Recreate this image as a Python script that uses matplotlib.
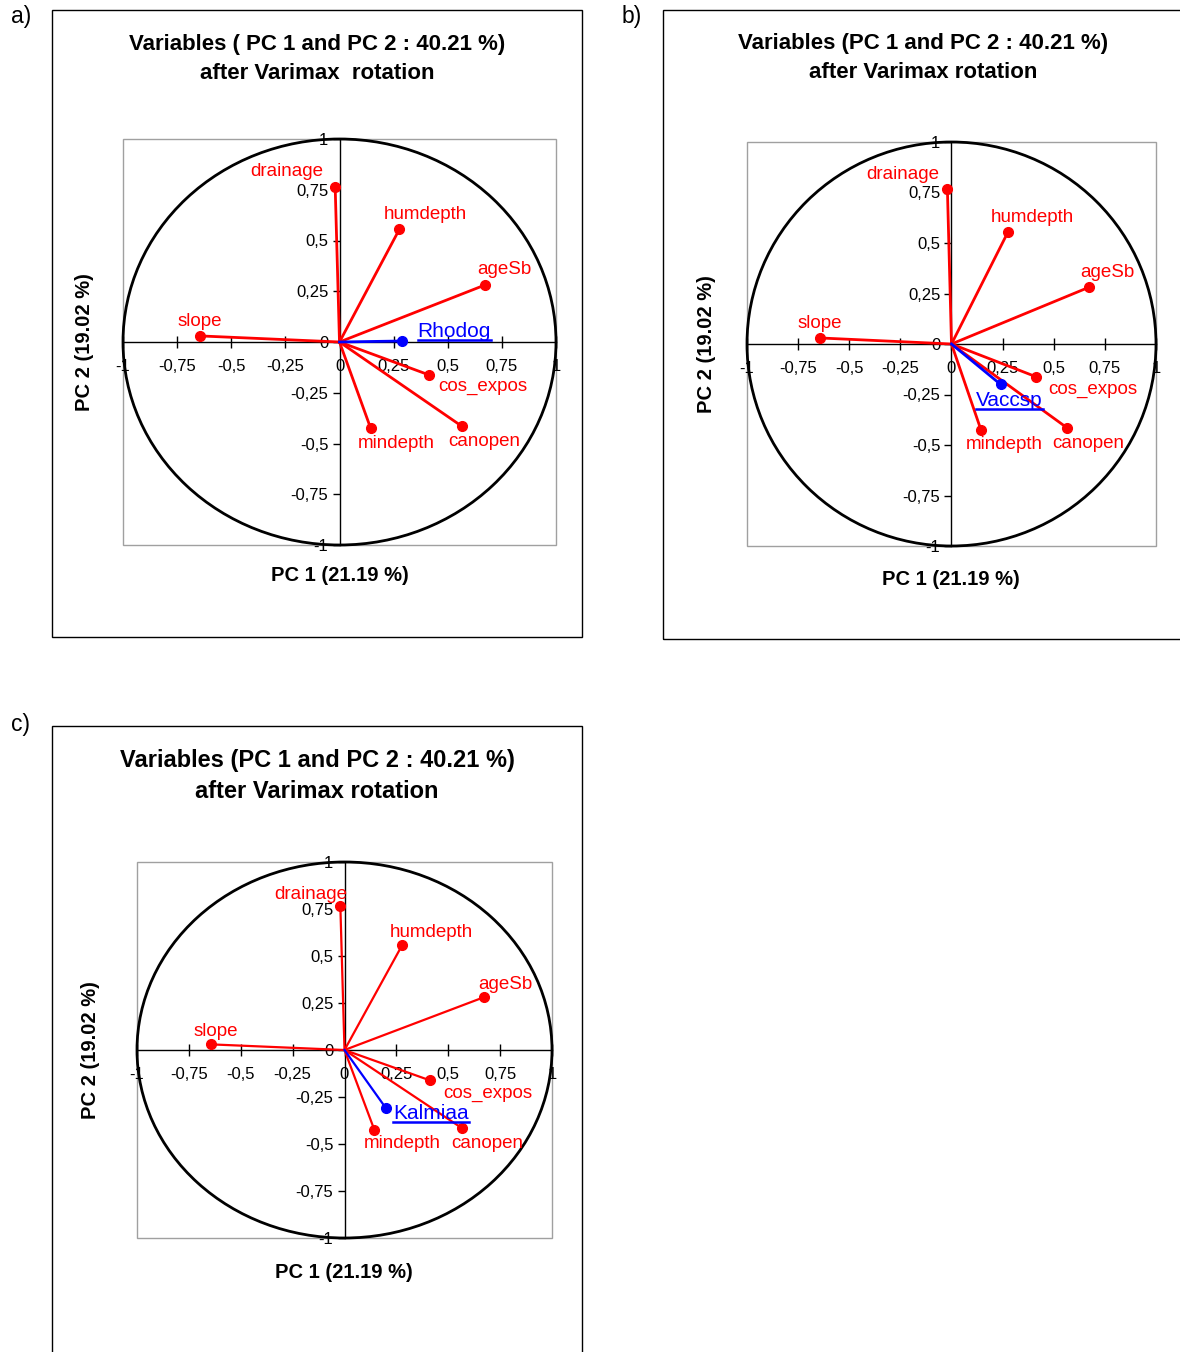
import numpy as np
import matplotlib
matplotlib.use('Agg')
import matplotlib.pyplot as plt
from matplotlib.patches import Circle, Rectangle
from matplotlib.lines import Line2D

plt.rcParams['font.family'] = ['Liberation Sans', 'DejaVu Sans']

# variable loadings (same in the three panels)
var_names = ['drainage', 'humdepth', 'ageSb', 'slope', 'cos_expos', 'canopen', 'mindepth']
var_pc1 = [-0.02, 0.277, 0.67, -0.645, 0.413, 0.565, 0.144]
var_pc2 = [0.765, 0.556, 0.28, 0.03, -0.162, -0.415, -0.425]

# supplementary species, one per panel
sp_names = ['Rhodog', 'Vaccsp', 'Kalmiaa']
sp_pc1 = [0.29, 0.24, 0.20]
sp_pc2 = [0.005, -0.20, -0.31]

tick_vals = [-1, -0.75, -0.5, -0.25, 0, 0.25, 0.5, 0.75, 1]
tick_txt = ['-1', '-0,75', '-0,5', '-0,25', '0', '0,25', '0,5', '0,75', '1']

panel_tags = ['a)', 'b)', 'c)']
titles = ['Variables ( PC 1 and PC 2 : 40.21 %)\nafter Varimax  rotation',
          'Variables (PC 1 and PC 2 : 40.21 %)\nafter Varimax rotation',
          'Variables (PC 1 and PC 2 : 40.21 %)\nafter Varimax rotation']
xlab = 'PC 1 (21.19 %)'
ylab = 'PC 2 (19.02 %)'

# label offsets in pixels (dx, dy) per panel
var_off = [
    [(-48, 15), (26, 15), (20, 16), (0, 14), (54, -12), (22, -15), (26, -15)],
    [(-45, 15), (24, 14), (19, 15), (0, 14), (57, -13), (21, -16), (23, -15)],
    [(-30, 12), (29, 13), (22, 13), (5, 13), (58, -13), (26, -15), (28, -14)],
]
sp_off = [(52, 9), (9, -16), (45, -5)]

W, H = 1180, 1352
fig = plt.figure(figsize=(W / 100, H / 100), dpi=100)

def fx(px):
    return px / W

def fy(py):
    return 1 - py / H

# layout in pixels: outer frame, inner axes, title/label positions
frames = [(52, 10, 582, 637), (663, 10, 1190, 639), (52, 726, 582, 1362)]
axboxes = [(123, 139, 556, 545), (747, 142, 1156, 546), (137, 862, 552, 1238)]
tag_pos = [(21, 17), (632, 17), (21, 724)]
title_pos = [(317, 59), (923, 58), (317, 776)]
xlab_pos = [(340, 576), (951, 579), (344, 1273)]
ylab_pos = [(84, 342), (706, 344), (91, 1050)]
title_fs = [16, 16, 17]
title_ls = [1.45, 1.45, 1.45]
vec_lw = [2.0, 2.0, 1.6]

underlines = []
for i in range(3):
    x0, y0, x1, y1 = frames[i]
    fig.add_artist(Rectangle((fx(x0), fy(y1)), fx(x1 - x0), (y1 - y0) / H,
                             transform=fig.transFigure, fill=False,
                             edgecolor='black', lw=1.0))
    fig.text(fx(tag_pos[i][0]), fy(tag_pos[i][1]), panel_tags[i],
             fontsize=16.5, ha='center', va='center')
    fig.text(fx(title_pos[i][0]), fy(title_pos[i][1]), titles[i],
             fontsize=title_fs[i], fontweight='bold', ha='center', va='center',
             linespacing=title_ls[i])
    fig.text(fx(xlab_pos[i][0]), fy(xlab_pos[i][1]), xlab,
             fontsize=14.5, fontweight='bold', ha='center', va='center')
    fig.text(fx(ylab_pos[i][0]), fy(ylab_pos[i][1]), ylab,
             fontsize=14.5, fontweight='bold', ha='center', va='center',
             rotation=90)

    a0, b0, a1, b1 = axboxes[i]
    ax = fig.add_axes([fx(a0), fy(b1), fx(a1 - a0), (b1 - b0) / H])
    ax.set_xlim(-1, 1)
    ax.set_ylim(-1, 1)
    ax.spines['left'].set_position(('data', 0))
    ax.spines['bottom'].set_position(('data', 0))
    ax.spines['top'].set_visible(False)
    ax.spines['right'].set_visible(False)
    for s in ['left', 'bottom']:
        ax.spines[s].set_linewidth(1.0)
        ax.spines[s].set_zorder(1)
    ax.add_patch(Rectangle((0, 0), 1, 1, transform=ax.transAxes, fill=False,
                           edgecolor='#a0a0a0', lw=1.0, clip_on=False))
    ax.add_patch(Circle((0, 0), 1, fill=False, edgecolor='black', lw=2.0,
                        zorder=2, clip_on=False))
    ax.set_xticks(tick_vals)
    ax.set_xticklabels(tick_txt)
    ax.set_yticks(tick_vals)
    ax.set_yticklabels(tick_txt)
    ax.tick_params(axis='x', direction='inout', length=8, width=1,
                   labelsize=12, pad=8)
    ax.tick_params(axis='y', direction='out', length=5, width=1,
                   labelsize=12, pad=3)

    for j, nm in enumerate(var_names):
        ax.plot([0, var_pc1[j]], [0, var_pc2[j]], color='#ff0000',
                lw=vec_lw[i], zorder=3, clip_on=False)
        ax.plot(var_pc1[j], var_pc2[j], 'o', color='#ff0000', ms=7,
                zorder=4, clip_on=False)
        ax.annotate(nm, (var_pc1[j], var_pc2[j]), xytext=var_off[i][j],
                    textcoords='offset pixels', color='#ff0000',
                    fontsize=13.5, ha='center', va='center', zorder=5)

    ax.plot([0, sp_pc1[i]], [0, sp_pc2[i]], color='#0000ff',
            lw=vec_lw[i], zorder=3, clip_on=False)
    ax.plot(sp_pc1[i], sp_pc2[i], 'o', color='#0000ff', ms=7, zorder=4,
            clip_on=False)
    t = ax.annotate(sp_names[i], (sp_pc1[i], sp_pc2[i]), xytext=sp_off[i],
                    textcoords='offset pixels', color='#0000ff',
                    fontsize=15, ha='center', va='center', zorder=5)
    underlines.append(t)

# underline the species names
fig.canvas.draw()
inv = fig.transFigure.inverted()
for t in underlines:
    bb = t.get_window_extent()
    p0 = inv.transform((bb.x0, bb.y0 + 1))
    p1 = inv.transform((bb.x1, bb.y0 + 1))
    fig.add_artist(Line2D([p0[0], p1[0]], [p0[1], p1[1]],
                          transform=fig.transFigure, color='#0000ff', lw=1.8))

fig.savefig('out.png', dpi=100)
